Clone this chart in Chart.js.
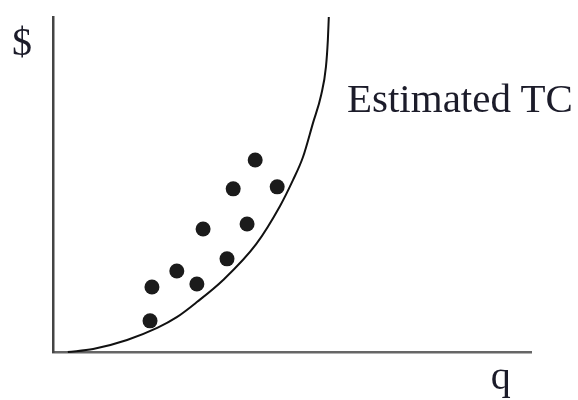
<!DOCTYPE html>
<html>
<head>
<meta charset="utf-8">
<script src="https://cdn.jsdelivr.net/npm/chart.js@4/dist/chart.umd.min.js"></script>
<style>
  html, body { margin: 0; padding: 0; background: #fff; }
  #wrap { width: 578px; height: 400px; position: relative; }
  .lbl {
    position: absolute;
    font-family: "Liberation Serif", Tinos, "Times New Roman", "DejaVu Serif", serif;
    color: #1c1c2a;
    line-height: 1;
    white-space: nowrap;
  }
</style>
</head>
<body>
<div id="wrap">
  <canvas id="chart" width="578" height="400"></canvas>
  <div class="lbl" id="ylab"></div>
  <div class="lbl" id="xlab"></div>
  <div class="lbl" id="clab"></div>
</div>
<script>
// estimated total cost curve (q, $)
const curveQ = [3.1, 8.4, 15.5, 21.8, 25.9, 30.1, 35.6, 42.5, 47.5, 50.2, 52.3, 54.4, 56.1, 57.1, 57.5, 57.7];
const curveC = [0, 0.9, 3.6, 7.2, 10.4, 14.9, 21.5, 32.2, 43.6, 51.3, 58.2, 68.4, 76.7, 85.1, 93.1, 100];

// observed points
const obsQ = [20.3, 20.7, 25.9, 30.1, 31.4, 36.4, 37.7, 40.6, 42.3, 46.9];
const obsC = [9.3, 19.4, 24.2, 20.3, 36.7, 27.8, 48.7, 38.2, 57.3, 49.3];

const yLabel = '$';
const xLabel = 'q';
const curveLabel = 'Estimated TC';

// put the html labels next to the axes once the scales exist
const labelPlugin = {
    id: 'labels',
    afterDraw(chart) {
        const { x, y } = chart.scales;
        const place = (id, text, size, left, baseline) => {
            const el = document.getElementById(id);
            el.textContent = text;
            el.style.fontSize = size + 'px';
            el.style.left = left + 'px';
            // line-height 1: baseline sits about 0.89em below the box top
            el.style.top = (baseline - size * 0.89) + 'px';
        };
        place('ylab', yLabel, 40, x.left - 41, y.getPixelForValue(88));
        place('xlab', xLabel, 40, x.getPixelForValue(91.6), y.bottom + 40);
        place('clab', curveLabel, 41, x.getPixelForValue(61.5), y.getPixelForValue(71.0));
    }
};

new Chart(document.getElementById('chart'), {
    type: 'scatter',
    data: {
        datasets: [
            {
                label: curveLabel,
                data: curveQ.map((q, i) => ({ x: q, y: curveC[i] })),
                showLine: true,
                borderColor: '#111',
                borderWidth: 2,
                pointRadius: 0,
                cubicInterpolationMode: 'monotone',
                fill: false,
                clip: false
            },
            {
                label: 'observed',
                data: obsQ.map((q, i) => ({ x: q, y: obsC[i] })),
                backgroundColor: '#1b1b1b',
                borderColor: '#1b1b1b',
                borderWidth: 0,
                pointRadius: 7.5
            }
        ]
    },
    options: {
        responsive: false,
        animation: false,
        layout: { padding: { left: 53, right: 47, top: 17, bottom: 48 } },
        plugins: {
            legend: { display: false },
            tooltip: { enabled: false }
        },
        scales: {
            x: {
                type: 'linear',
                min: 0,
                max: 100,
                ticks: { display: false },
                grid: { display: false, drawTicks: false },
                border: { display: true, color: '#666', width: 2.5 }
            },
            y: {
                type: 'linear',
                min: 0,
                max: 100,
                ticks: { display: false },
                grid: { display: false, drawTicks: false },
                border: { display: true, color: '#444', width: 2.5 }
            }
        }
    },
    plugins: [labelPlugin]
});
</script>
</body>
</html>
